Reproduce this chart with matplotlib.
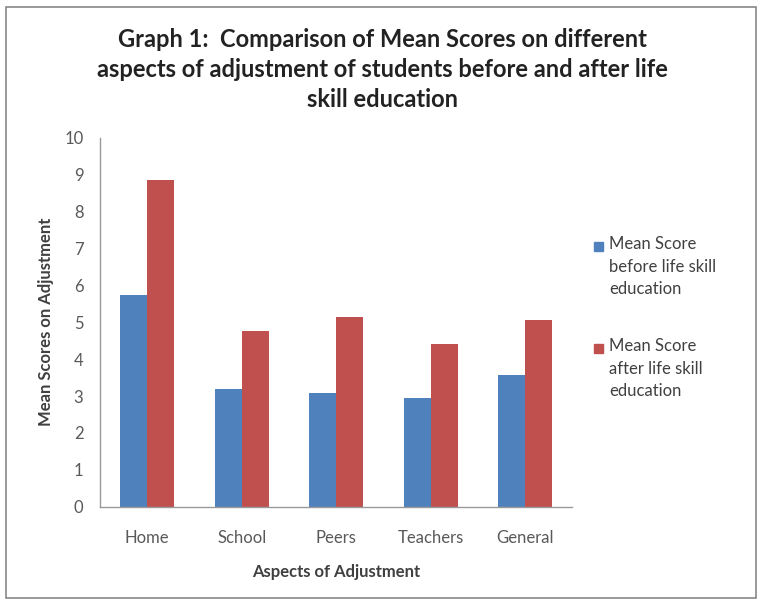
import matplotlib
matplotlib.use("Agg")
import matplotlib.pyplot as plt
import numpy as np
from matplotlib.patches import Rectangle

aspects = ["Home", "School", "Peers", "Teachers", "General"]
before = [5.75, 3.18, 3.09, 2.96, 3.56]
after = [8.85, 4.76, 5.15, 4.41, 5.05]
series_labels = ["Mean Score\nbefore life skill\neducation",
                 "Mean Score\nafter life skill\neducation"]
colors = ["#4F81BD", "#C0504D"]

plt.rcParams["font.family"] = ["Lato", "DejaVu Sans"]

fig = plt.figure(figsize=(7.58, 6.04), dpi=100)
ax = fig.add_axes([0.132, 0.161, 0.623, 0.611])

x = np.arange(len(aspects))
w = 0.286
ax.bar(x - w / 2, before, w, color=colors[0])
ax.bar(x + w / 2, after, w, color=colors[1])

ax.set_xlim(-0.5, len(aspects) - 0.5)
ax.set_ylim(0, 10)
ax.set_yticks(range(0, 11))
ax.set_xticks(x)
ax.set_xticklabels(aspects)
ax.tick_params(axis="both", length=0, labelsize=12, colors="#595959")
ax.tick_params(axis="y", pad=12)
ax.tick_params(axis="x", pad=17)
for s in ["top", "right"]:
    ax.spines[s].set_visible(False)
for s in ["left", "bottom"]:
    ax.spines[s].set_color("#999999")
    ax.spines[s].set_linewidth(1)

ax.set_ylabel("Mean Scores on Adjustment", fontsize=12, fontweight="bold",
              color="#404040", labelpad=7)
ax.set_xlabel("Aspects of Adjustment", fontsize=12, fontweight="bold",
              color="#404040", labelpad=13)

fig.text(0.505, 0.953,
         "Graph 1:  Comparison of Mean Scores on different\n"
         "aspects of adjustment of students before and after life\n"
         "skill education",
         ha="center", va="top", fontsize=17, fontweight="bold",
         color="#222222", linespacing=1.35)

# legend: square marker level with the first text line
legend_tops = [246, 348]
H = 604.0
for lbl, col, yc in zip(series_labels, colors, legend_tops):
    fig.patches.append(Rectangle((594 / 758, (H - yc - 5) / H), 9 / 758, 9 / H,
                                 transform=fig.transFigure, color=col))
    fig.text(609 / 758, (H - yc + 10) / H, lbl, ha="left", va="top",
             fontsize=12, color="#404040", linespacing=1.5,
             transform=fig.transFigure)

# outer chart frame
fig.patches.append(Rectangle((0.008, 0.01), 0.99, 0.978, transform=fig.transFigure,
                             fill=False, edgecolor="#888888", linewidth=1.2))

fig.savefig("out.png", dpi=100)
